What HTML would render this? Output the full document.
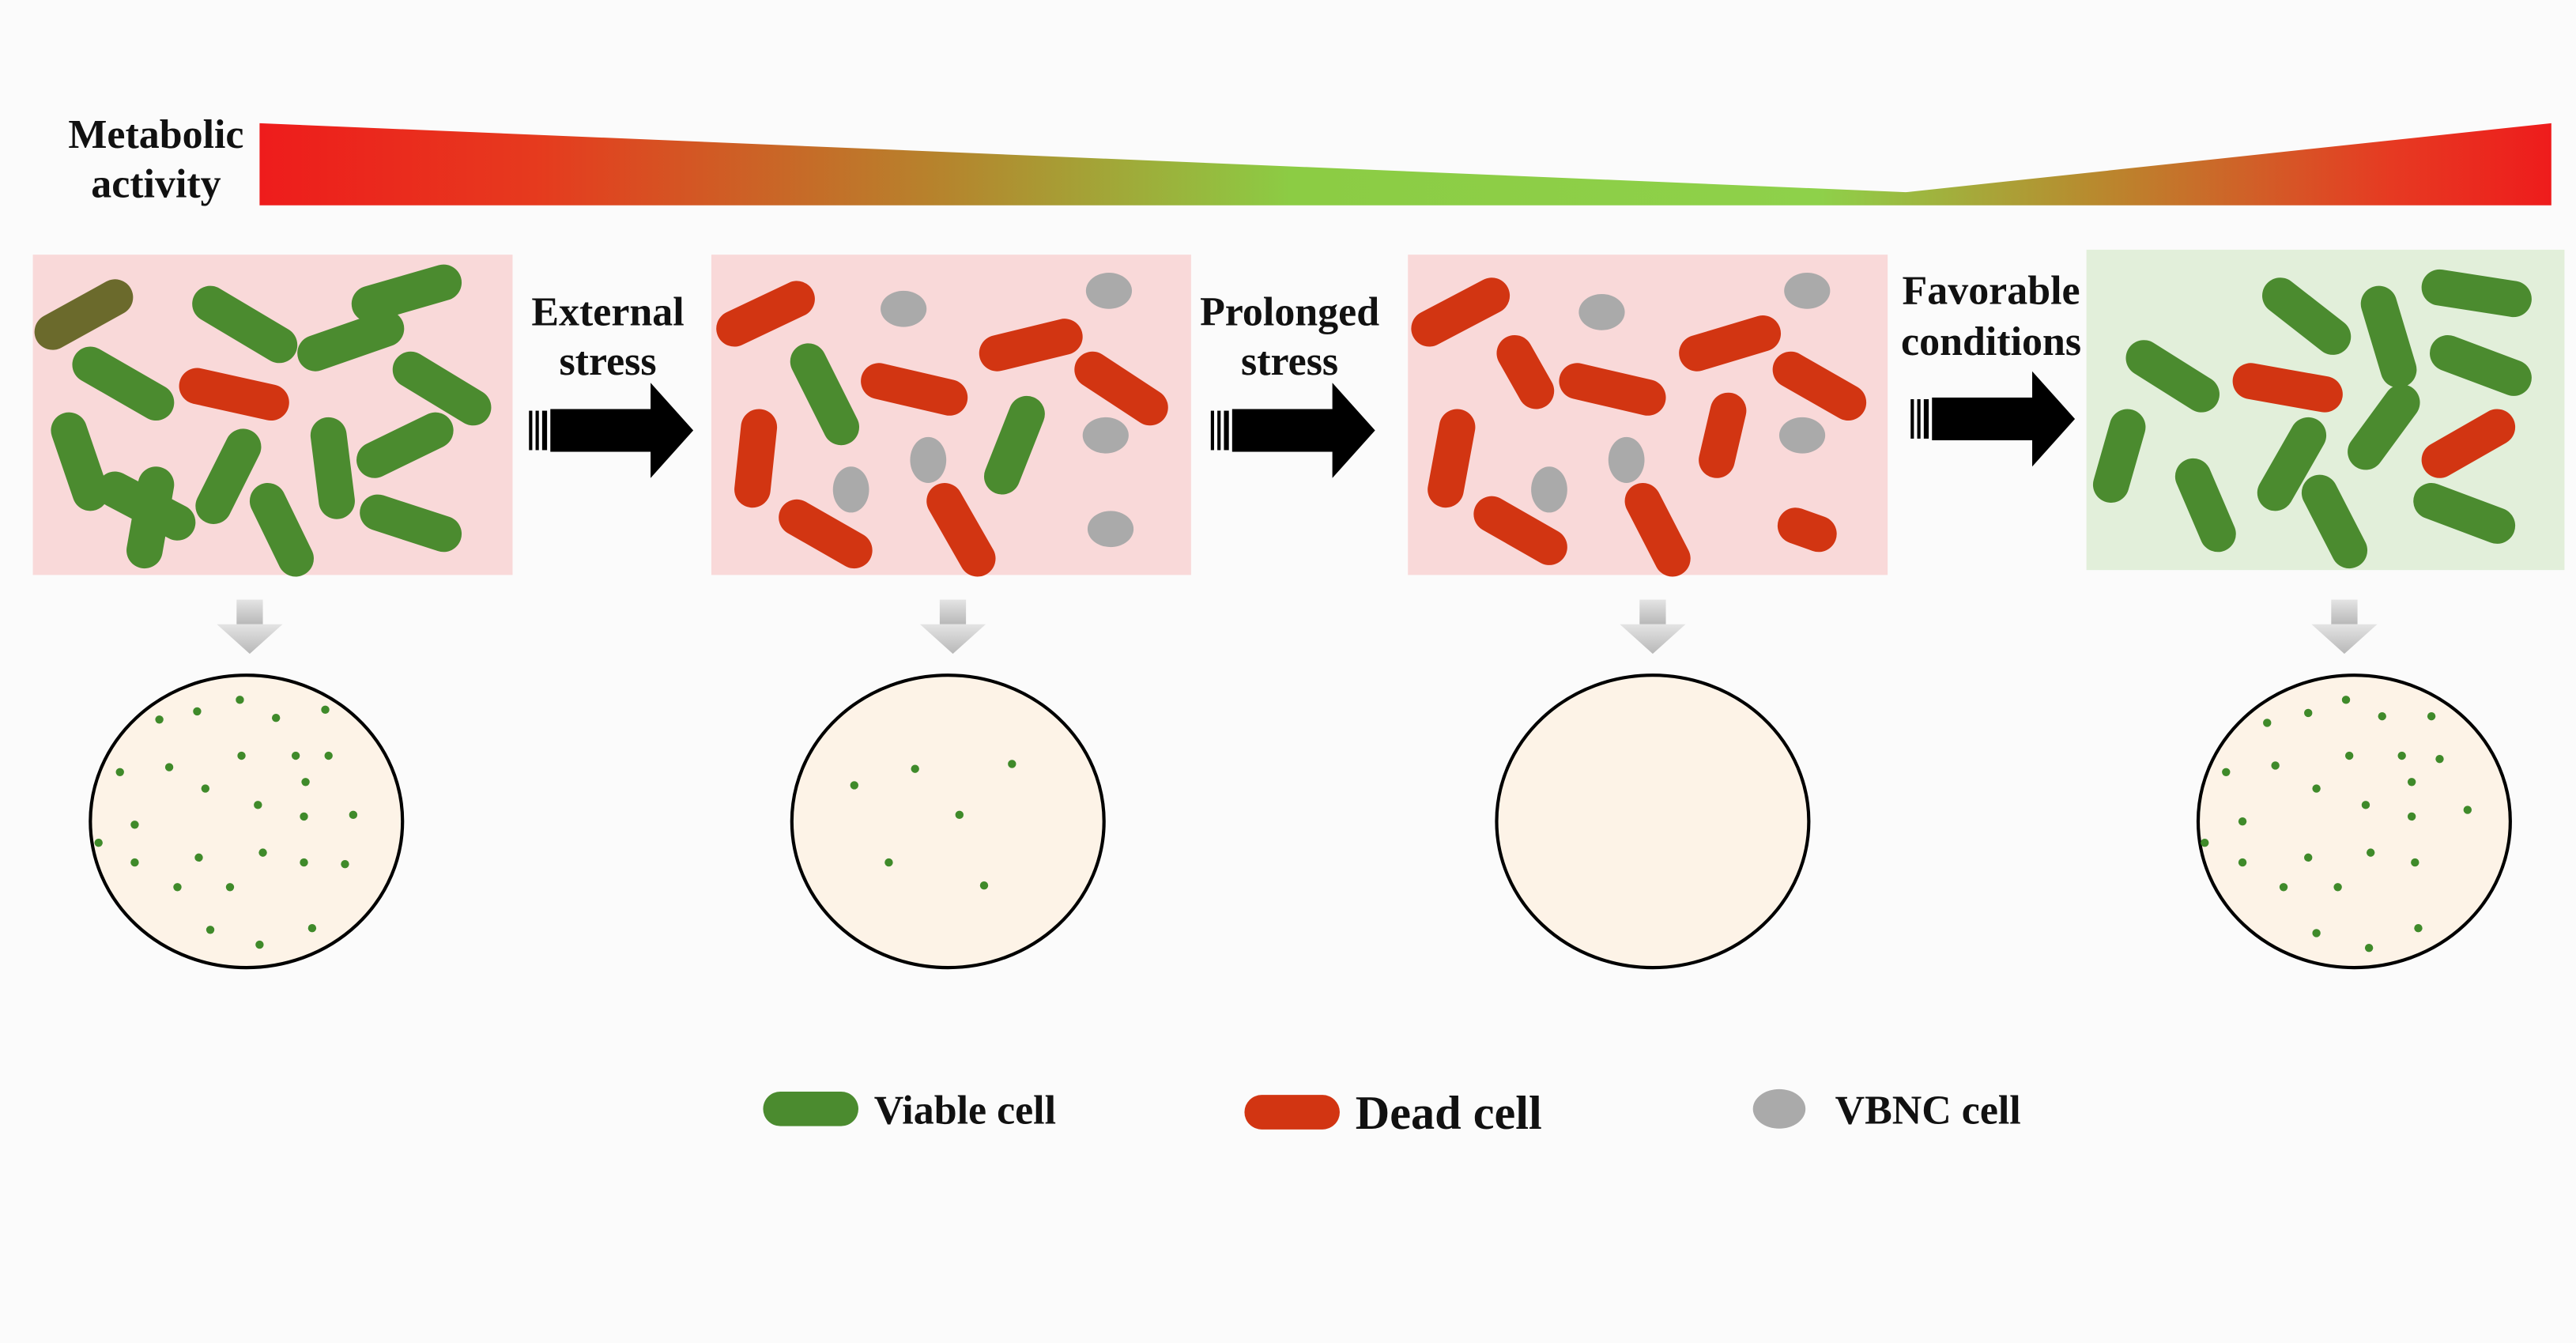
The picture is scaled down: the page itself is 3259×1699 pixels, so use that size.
<!DOCTYPE html>
<html><head><meta charset="utf-8"><style>html,body{margin:0;padding:0;background:#fbfbfb}svg{display:block}text{font-family:"Liberation Serif",serif;font-weight:bold;fill:#111}</style></head>
<body>
<svg width="3259" height="1699" viewBox="0 0 1568 817.5" preserveAspectRatio="none" xmlns="http://www.w3.org/2000/svg">
<defs>
<linearGradient id="mg" x1="158" y1="0" x2="1553" y2="0" gradientUnits="userSpaceOnUse">
<stop offset="0" stop-color="#ee1c1c"/><stop offset="0.12" stop-color="#e63a1e"/><stop offset="0.3" stop-color="#b5852d"/><stop offset="0.45" stop-color="#8ccc44"/><stop offset="0.68" stop-color="#8ed14a"/><stop offset="0.8" stop-color="#b88a2e"/><stop offset="0.93" stop-color="#e63a22"/><stop offset="1" stop-color="#ee1c1c"/></linearGradient>
<linearGradient id="ga" x1="0" y1="0" x2="0" y2="1"><stop offset="0" stop-color="#e4e4e4"/><stop offset="1" stop-color="#b8b8b8"/></linearGradient>
<g id="darr"><rect x="-8" y="0" width="16" height="15" fill="url(#ga)"/><polygon points="-20,15 20,15 0,33" fill="url(#ga)"/></g>
<g id="barr"><rect x="0" y="-12" width="2" height="24" fill="#000"/><rect x="4" y="-12" width="2" height="24" fill="#000"/><rect x="8" y="-12" width="3" height="24" fill="#000"/><rect x="13" y="-13" width="64" height="26" fill="#000"/><polygon points="74,-29 100,0 74,29" fill="#000"/></g>
</defs>
<rect width="1568" height="817.5" fill="#fbfbfb"/>
<text x="95" y="90" font-size="25" text-anchor="middle">Metabolic</text>
<text x="95" y="120" font-size="25" text-anchor="middle">activity</text>
<polygon points="158,75 1160,117 1553,75 1553,125 158,125" fill="url(#mg)"/>

<rect x="20" y="155" width="292" height="195" fill="#f9d9d9"/>
<rect x="433" y="155" width="292" height="195" fill="#f9d9d9"/>
<rect x="857" y="155" width="292" height="195" fill="#f9d9d9"/>
<rect x="1270" y="152" width="291" height="195" fill="#e2efda"/>

<g stroke-linecap="round" stroke-width="22" fill="none">
<g stroke="#4b8b2f">
<path d="M128,185L170,210M225,185L270,172M192,215L235,200M55,222L95,245M250,225L288,248M42,262L55,300M148,272L130,308M200,265L205,305M228,280L265,262M70,298L108,318M95,295L88,335M163,305L180,340M230,312L270,325"/>
<path d="M492,220L512,260M625,252L610,290"/>
<path d="M1305,218L1340,240M1388,180L1420,205M1448,185L1460,225M1485,175L1530,182M1490,215L1530,230M1295,260L1285,295M1335,290L1350,325M1385,300L1405,265M1440,275L1462,245M1412,300L1430,335M1480,305L1520,320"/>
</g>
<path d="M32,202L70,181" stroke="#6b6a2c"/>
<g stroke="#d23512">
<path d="M120,235L165,245"/>
<path d="M447,200L485,182M535,232L578,242M607,215L648,205M665,225L700,248M462,260L458,298M485,315L520,335M575,305L595,340"/>
<path d="M870,200L908,180M922,215L935,238M960,232L1003,242M1033,215L1073,203M1090,225L1125,245M887,260L880,298M908,313L943,333M1000,305L1018,340M1052,250L1045,280M1093,320L1107,325"/>
<path d="M1370,232L1415,240M1485,280L1520,260"/>
</g>
</g>
<g fill="#aaaaaa">
<ellipse cx="550" cy="188" rx="14" ry="11"/><ellipse cx="675" cy="177" rx="14" ry="11"/><ellipse cx="673" cy="265" rx="14" ry="11"/><ellipse cx="565" cy="280" rx="11" ry="14"/><ellipse cx="518" cy="298" rx="11" ry="14"/><ellipse cx="676" cy="322" rx="14" ry="11"/>
<ellipse cx="975" cy="190" rx="14" ry="11"/><ellipse cx="1100" cy="177" rx="14" ry="11"/><ellipse cx="1097" cy="265" rx="14" ry="11"/><ellipse cx="990" cy="280" rx="11" ry="14"/><ellipse cx="943" cy="298" rx="11" ry="14"/>
</g>

<text x="370" y="198" font-size="25" text-anchor="middle">External</text>
<text x="370" y="228" font-size="25" text-anchor="middle">stress</text>
<text x="785" y="198" font-size="25" text-anchor="middle">Prolonged</text>
<text x="785" y="228" font-size="25" text-anchor="middle">stress</text>
<text x="1212" y="185" font-size="25" text-anchor="middle">Favorable</text>
<text x="1212" y="216" font-size="25" text-anchor="middle">conditions</text>
<use href="#barr" x="322" y="262"/>
<use href="#barr" x="737" y="262"/>
<use href="#barr" x="1163" y="255"/>

<use href="#darr" x="152" y="365"/><use href="#darr" x="580" y="365"/><use href="#darr" x="1006" y="365"/><use href="#darr" x="1427" y="365"/>

<g fill="#fdf3e7" stroke="#000" stroke-width="2">
<ellipse cx="150" cy="500" rx="95" ry="89"/><ellipse cx="577" cy="500" rx="95" ry="89"/><ellipse cx="1006" cy="500" rx="95" ry="89"/><ellipse cx="1433" cy="500" rx="95" ry="89"/>
</g>
<g fill="#3f8a2a">
<circle cx="97" cy="438" r="2.5"/><circle cx="120" cy="433" r="2.5"/><circle cx="146" cy="426" r="2.5"/><circle cx="168" cy="437" r="2.5"/><circle cx="198" cy="432" r="2.5"/><circle cx="73" cy="470" r="2.5"/><circle cx="103" cy="467" r="2.5"/><circle cx="147" cy="460" r="2.5"/><circle cx="180" cy="460" r="2.5"/><circle cx="200" cy="460" r="2.5"/><circle cx="125" cy="480" r="2.5"/><circle cx="157" cy="490" r="2.5"/><circle cx="186" cy="476" r="2.5"/><circle cx="82" cy="502" r="2.5"/><circle cx="185" cy="497" r="2.5"/><circle cx="215" cy="496" r="2.5"/><circle cx="60" cy="513" r="2.5"/><circle cx="121" cy="522" r="2.5"/><circle cx="160" cy="519" r="2.5"/><circle cx="185" cy="525" r="2.5"/><circle cx="210" cy="526" r="2.5"/><circle cx="82" cy="525" r="2.5"/><circle cx="108" cy="540" r="2.5"/><circle cx="140" cy="540" r="2.5"/><circle cx="128" cy="566" r="2.5"/><circle cx="158" cy="575" r="2.5"/><circle cx="190" cy="565" r="2.5"/>
<circle cx="520" cy="478" r="2.5"/><circle cx="557" cy="468" r="2.5"/><circle cx="616" cy="465" r="2.5"/><circle cx="584" cy="496" r="2.5"/><circle cx="541" cy="525" r="2.5"/><circle cx="599" cy="539" r="2.5"/>
<circle cx="1380" cy="440" r="2.5"/><circle cx="1405" cy="434" r="2.5"/><circle cx="1428" cy="426" r="2.5"/><circle cx="1450" cy="436" r="2.5"/><circle cx="1480" cy="436" r="2.5"/><circle cx="1355" cy="470" r="2.5"/><circle cx="1385" cy="466" r="2.5"/><circle cx="1430" cy="460" r="2.5"/><circle cx="1462" cy="460" r="2.5"/><circle cx="1485" cy="462" r="2.5"/><circle cx="1410" cy="480" r="2.5"/><circle cx="1440" cy="490" r="2.5"/><circle cx="1468" cy="476" r="2.5"/><circle cx="1365" cy="500" r="2.5"/><circle cx="1468" cy="497" r="2.5"/><circle cx="1502" cy="493" r="2.5"/><circle cx="1342" cy="513" r="2.5"/><circle cx="1405" cy="522" r="2.5"/><circle cx="1443" cy="519" r="2.5"/><circle cx="1470" cy="525" r="2.5"/><circle cx="1365" cy="525" r="2.5"/><circle cx="1390" cy="540" r="2.5"/><circle cx="1423" cy="540" r="2.5"/><circle cx="1410" cy="568" r="2.5"/><circle cx="1442" cy="577" r="2.5"/><circle cx="1472" cy="565" r="2.5"/>
</g>

<line x1="475" y1="675" x2="512" y2="675" stroke="#4b8b2f" stroke-width="21" stroke-linecap="round"/>
<text x="532" y="684" font-size="25">Viable cell</text>
<line x1="768" y1="677" x2="805" y2="677" stroke="#d23512" stroke-width="21" stroke-linecap="round"/>
<text x="825" y="687" font-size="29">Dead cell</text>
<ellipse cx="1083" cy="675" rx="16" ry="12" fill="#aaaaaa"/>
<text x="1117" y="684" font-size="25">VBNC cell</text>
</svg>
</body></html>
